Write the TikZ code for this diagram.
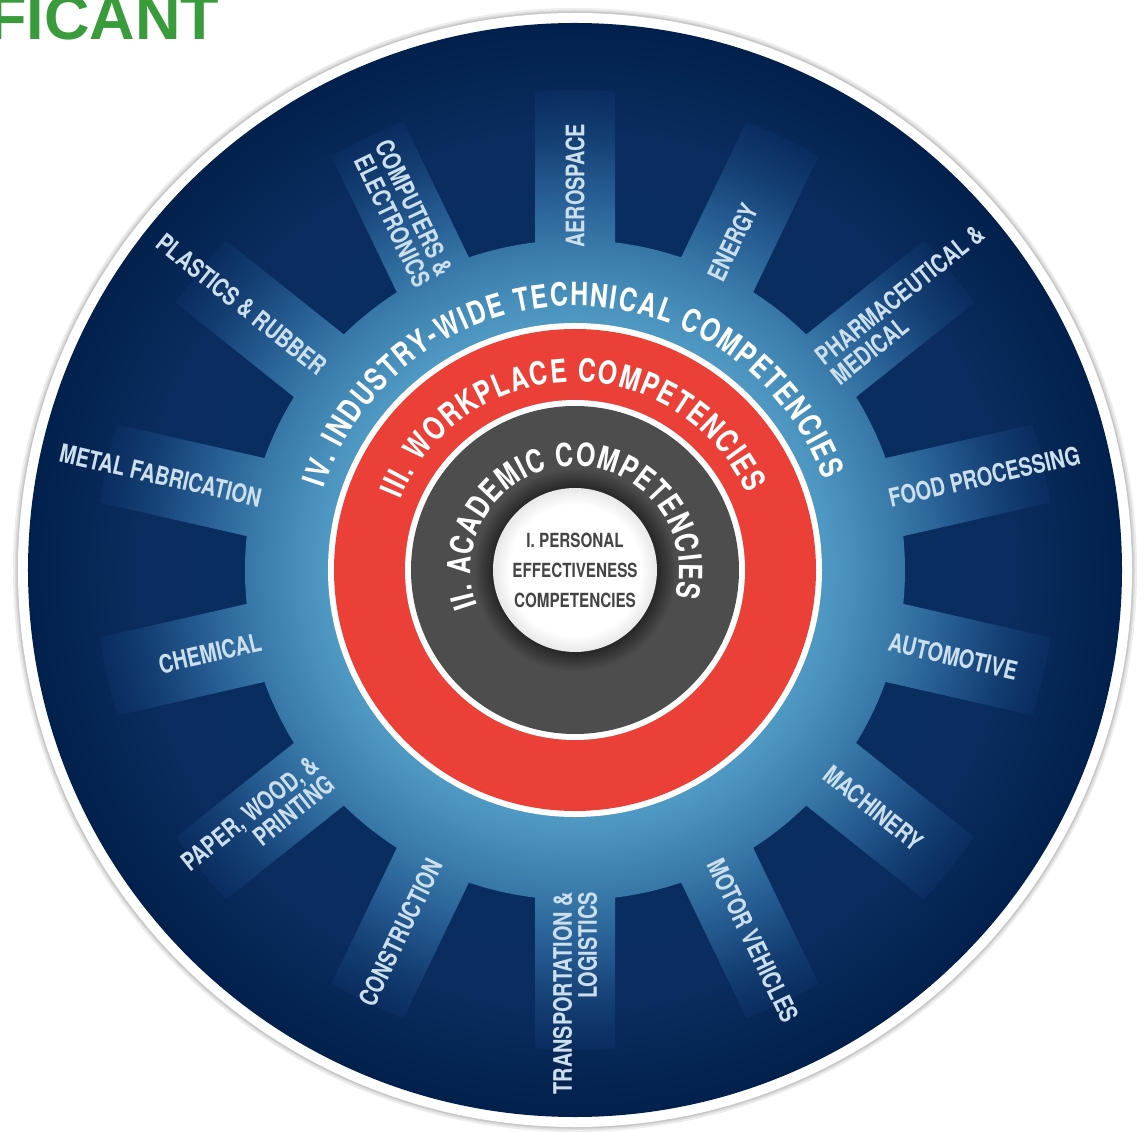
\documentclass[tikz,border=0pt]{standalone}
\usepackage{fontspec}
\usetikzlibrary{decorations.text}
\newfontfamily\condfont{TeX Gyre Heros}[FakeStretch=0.78]
\newfontfamily\headfont{Liberation Sans}
\definecolor{navy}{HTML}{0A2C5E}
\definecolor{rimnavy}{HTML}{02204C}
\definecolor{midnavy}{HTML}{0A2D60}
\definecolor{glowA}{HTML}{5AA3CC}
\definecolor{glowB}{HTML}{509BC5}
\definecolor{glowC}{HTML}{4A92BD}
\definecolor{glowD}{HTML}{3878A8}
\definecolor{glowE}{HTML}{245990}
\definecolor{glowF}{HTML}{143F73}
\definecolor{redring}{HTML}{EA4037}
\definecolor{ringgray}{HTML}{4D4D4D}
\definecolor{textgray}{HTML}{454545}
\definecolor{labelblue}{HTML}{CCDFEC}
\definecolor{bannergreen}{HTML}{3A9B3C}
\pgfdeclareradialshading{bgshade}{\pgfpointorigin}{color(0bp)=(midnavy); color(15bp)=(midnavy); color(20bp)=(navy); color(25bp)=(rimnavy); color(50bp)=(rimnavy)}
\pgfdeclareradialshading{glowshade}{\pgfpointorigin}{color(0bp)=(glowA); color(12.5bp)=(glowB); color(14bp)=(glowC); color(17bp)=(glowD); color(20bp)=(glowE); color(22.5bp)=(glowF); color(25bp)=(navy); color(50bp)=(navy)}
\pgfdeclareradialshading{grayshade}{\pgfpointorigin}{color(0bp)=(ringgray!50!black); color(12.5bp)=(ringgray!50!black); color(15.5bp)=(ringgray); color(25bp)=(ringgray); color(50bp)=(ringgray)}
\pgfdeclareradialshading{whiteshade}{\pgfpointorigin}{color(0bp)=(white); color(20bp)=(white); color(25bp)=(black!9); color(50bp)=(black!9)}
\providecommand{\arcfont}{\color{white}\condfont\bfseries\fontsize{32}{32}\selectfont}
\providecommand{\Disk}[2]{
\fill[#1] (0,0) circle (#2);
}
\providecommand{\ArcLabel}[4]{
\path[decorate,decoration={text along path,text align={fit to path},text={|\arcfont|#4}}]
  (#1:#3) arc[start angle=#1,end angle=#2,radius=#3];
}
\tikzset{
  sector/.style={text=labelblue,inner sep=0pt,font=\condfont\bfseries\fontsize{25.5}{25}\selectfont},
  outward/.style={sector,anchor=west,align=left},
  inward/.style={sector,anchor=east,align=right}
}
\begin{document}
\begin{tikzpicture}[x=1pt,y=1pt]
\useasboundingbox (-575,-562) rectangle (570,570);
\node[anchor=base west,inner sep=0pt,text=bannergreen,font=\headfont\bfseries\fontsize{63}{63}\selectfont] (banner) at (-587,530) {FICANT};
\Disk{black!7}{562}\Disk{black!14}{560}\Disk{black!22}{558.5}\Disk{white}{557}
\shade[shading=bgshade] (0,0) circle (547);
\begin{scope}
\clip (0,0) circle (330);
\shade[shading=glowshade] (0,0) circle (480);
\end{scope}
\foreach \i in {0,...,13}{
  \begin{scope}
  \clip[rotate=90-\i*360/14] (0,-40) rectangle (480,40);
  \shade[shading=glowshade] (0,0) circle (480);
  \end{scope}
}
\Disk{white}{247}\Disk{redring}{241}\Disk{white}{170}
\shade[shading=grayshade] (0,0) circle (164);
\shade[shading=whiteshade] (0,0) circle (82);
\ArcLabel{162}{20}{264}{IV. INDUSTRY-WIDE TECHNICAL COMPETENCIES}
\ArcLabel{158}{24}{188}{III. WORKPLACE COMPETENCIES}
\ArcLabel{200}{-15}{104}{II. ACADEMIC COMPETENCIES}
\node[align=center,text=textgray,font=\condfont\bfseries\fontsize{19.5}{30}\selectfont] (personal) at (0,0) {I. PERSONAL\\EFFECTIVENESS\\COMPETENCIES};
\foreach \ang/\name [count=\i] in {90/AEROSPACE,64.29/ENERGY,38.57/{PHARMACEUTICAL \&\\MEDICAL},12.86/FOOD PROCESSING,-12.86/AUTOMOTIVE,-38.57/MACHINERY,-64.29/MOTOR VEHICLES}
  \node[outward,rotate=\ang] (sector-\i) at (\ang:322) {\name};
\foreach \ang/\name [count=\i from 8] in {-90/{TRANSPORTATION \&\\LOGISTICS},-115.71/CONSTRUCTION,-141.43/{PAPER, WOOD, \&\\PRINTING},-167.14/CHEMICAL,167.14/METAL FABRICATION,141.43/PLASTICS \& RUBBER,115.71/{COMPUTERS \&\\ELECTRONICS}}
  \node[inward,rotate=\ang+180] (sector-\i) at (\ang:322) {\name};
\end{tikzpicture}
\end{document}
